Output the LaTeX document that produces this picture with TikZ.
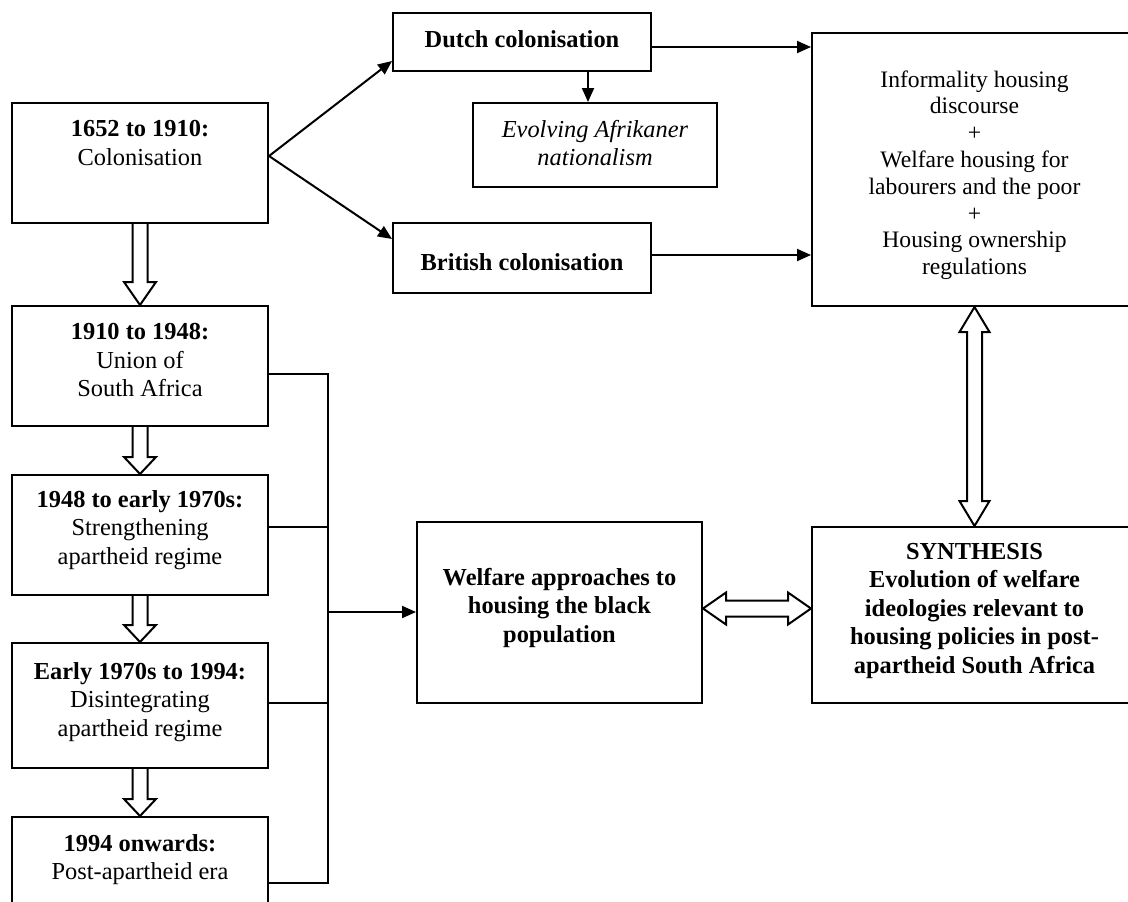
\documentclass[tikz,border=0pt]{standalone}
\usepackage{fontspec}
\setmainfont{Liberation Serif}
\usetikzlibrary{arrows.meta,calc,fit}
\newcommand{\blockdown}[3]{%
  \draw[blk] ($(#1)+(-7.5,0)$) -- ($(#2)+(-7.5,-#3)$) -- ($(#2)+(-16,-#3)$) -- (#2)
    -- ($(#2)+(16,-#3)$) -- ($(#2)+(7.5,-#3)$) -- ($(#1)+(7.5,0)$);}
\begin{document}
\begin{tikzpicture}[x=0.5pt,y=-0.5pt,
  box/.style={draw, line width=1pt, inner sep=0pt},
  txt/.style={align=center, inner sep=0pt, anchor=north, font=\fontsize{12.2}{14.2}\selectfont},
  htxt/.style={txt, font=\fontsize{11.8}{13.4}\selectfont},
  conn/.style={line width=1pt},
  arr/.style={conn, -{Triangle[length=7pt,width=6pt]}},
  blk/.style={draw, line width=1pt, fill=white, line join=miter}]
\clip (0,0) rectangle (1128,901);
\fill[white] (0,0) rectangle (1128,901);

% left column boxes
\node[box, fit={(12,103) (268,223)}] (A) {};
\node[box, fit={(12,306) (268,426)}] (B) {};
\node[box, fit={(12,475) (268,595)}] (C) {};
\node[box, fit={(12,643) (268,768)}] (D) {};
\node[box, fit={(12,817) (268,912)}] (E) {};
\node[txt] (At) at (140,120) {\textbf{1652 to 1910:}\\Colonisation};
\node[txt] (Bt) at (140,323) {\textbf{1910 to 1948:}\\Union of\\South Africa};
\node[txt] (Ct) at (140,490) {\textbf{1948 to early 1970s:}\\Strengthening\\apartheid regime};
\node[txt] (Dt) at (140,662) {\textbf{Early 1970s to 1994:}\\Disintegrating\\apartheid regime};
\node[txt] (Et) at (140,834) {\textbf{1994 onwards:}\\Post-apartheid era};

% colonisation branches
\node[box, fit={(393,13) (651,71)}] (Dutch) {};
\node[box, fit={(473,103) (717,187)}] (Evo) {};
\node[box, fit={(393,223) (651,293)}] (Brit) {};
\node[txt] (Dutcht) at (522,30) {\textbf{Dutch colonisation}};
\node[txt] (Evot) at (595,120) {\textit{Evolving Afrikaner}\\\textit{nationalism}};
\node[txt] (Britt) at (522,253) {\textbf{British colonisation}};

% right boxes
\node[box, fit={(812,33) (1137,306)}] (H) {};
\node[htxt] (Ht) at (974.5,70) {Informality housing\\discourse\\+\\Welfare housing for\\labourers and the poor\\+\\Housing ownership\\regulations};
\node[box, fit={(417,522) (702,703)}] (F) {};
\node[txt] (Ft) at (559.5,568) {\textbf{Welfare approaches to}\\\textbf{housing the black}\\\textbf{population}};
\node[box, fit={(812,527) (1137,703)}] (G) {};
\node[txt] (Gt) at (974.5,543) {\textbf{SYNTHESIS}\\\textbf{Evolution of welfare}\\\textbf{ideologies relevant to}\\\textbf{housing policies in post-}\\\textbf{apartheid South Africa}};

% arrows from colonisation
\draw[arr] ($(A.east)+(0,-7)$) -- ($(Dutch.south west)+(0,-11)$);
\draw[arr] ($(A.east)+(0,-7)$) -- ($(Brit.north west)+(0,17)$);
\coordinate (dx) at (588,0);
\draw[arr] (Dutch.south -| dx) -- (Evo.north -| dx);
\draw[arr] ($(Dutch.east)+(0,5)$) -- ($(H.west |- Dutch.east)+(0,5)$);
\draw[arr] ($(Brit.east)+(0,-3)$) -- ($(H.west |- Brit.east)+(0,-3)$);

% hollow arrows down the left column
\blockdown{A.south}{B.north}{23}
\blockdown{B.south}{C.north}{17}
\blockdown{C.south}{D.north}{17}
\blockdown{D.south}{E.north}{17}

% bracket
\coordinate (jb) at (328,374);
\coordinate (jc) at (328,527);
\coordinate (jd) at (328,703);
\coordinate (je) at (328,883);
\coordinate (jf) at (328,612);
\draw[conn] (B.east |- jb) -- (jb) -- (je) -- (E.east |- je);
\draw[conn] (C.east |- jc) -- (jc);
\draw[conn] (D.east |- jd) -- (jd);
\draw[arr] (jf) -- (F.west |- jf);

% double hollow arrow F <-> G
\coordinate (hl) at ($(F.east)+(0,-4)$);
\coordinate (hr) at (G.west |- hl);
\draw[blk] (hl) -- ($(hl)+(23,-16)$) -- ($(hl)+(23,-8)$) -- ($(hr)+(-23,-8)$) -- ($(hr)+(-23,-16)$)
  -- (hr) -- ($(hr)+(-23,16)$) -- ($(hr)+(-23,8)$) -- ($(hl)+(23,8)$) -- ($(hl)+(23,16)$) -- cycle;

% double hollow arrow H <-> G
\draw[blk] (H.south) -- ($(H.south)+(15,25)$) -- ($(H.south)+(7.5,25)$) -- ($(G.north)+(7.5,-25)$)
  -- ($(G.north)+(15,-25)$) -- (G.north) -- ($(G.north)+(-15,-25)$) -- ($(G.north)+(-7.5,-25)$)
  -- ($(H.south)+(-7.5,25)$) -- ($(H.south)+(-15,25)$) -- cycle;
\end{tikzpicture}
\end{document}
